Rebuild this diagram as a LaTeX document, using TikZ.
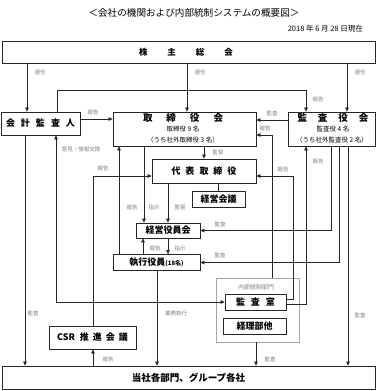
\documentclass[tikz,border=0pt]{standalone}
\usepackage{fontspec}
\setmainfont{Noto Sans CJK JP}
\usetikzlibrary{arrows.meta}
\newcommand{\gp}[1]{\hspace{#1pt}}
\begin{document}
\begin{tikzpicture}[x=1pt,y=-1pt,
  box/.style={draw=black!85, line width=0.8pt, inner sep=0pt, font=\bfseries\fontsize{9}{10}\selectfont},
  emptybox/.style={draw=black!85, line width=0.8pt, inner sep=0pt},
  sub/.style={inner sep=0pt, font=\fontsize{6.5}{7}\selectfont},
  lbl/.style={inner sep=0pt, text=black!50, font=\fontsize{5.5}{6}\selectfont},
  conn/.style={line width=0.6pt, draw=black!85},
  arr/.style={conn, -{Triangle[length=4pt,width=3.6pt]}},
  darr/.style={conn, {Triangle[length=4pt,width=3.6pt]}-{Triangle[length=4pt,width=3.6pt]}}
]
\useasboundingbox[fill=white] (0,0) rectangle (384,391);

% title and date
\node[inner sep=0pt, font=\fontsize{9.6}{11}\selectfont] (title) at (194,13) {＜会社の機関および内部統制システムの概要図＞};
\node[inner sep=0pt, anchor=east, font=\fontsize{7.5}{8}\selectfont] (date) at (363,29) {2018 年 6 月 28 日現在};

% boxes
\node[box, minimum width=373pt, minimum height=22pt] (kabu) at (188.5,52) {};
\node[inner sep=0pt, font=\bfseries\fontsize{8.5}{10}\selectfont] (kabut) at (186,52) {株\gp{20}主\gp{20}総\gp{20}会};
\node[box, minimum width=79pt, minimum height=23pt] (kaikei) at (40.5,123.5) {会\gp{6}計\gp{6}監\gp{6}査\gp{6}人};
\node[emptybox, minimum width=143pt, minimum height=34pt] (tori) at (184.5,129) {};
\node[inner sep=0pt, font=\bfseries\fontsize{9.5}{10}\selectfont] (tori1) at (183,117.5) {取\gp{14}締\gp{14}役\gp{14}会};
\node[sub] (tori2) at (183,129) {取締役 9 名};
\node[sub] (tori3) at (183,140) {（うち社外取締役 3 名）};
\node[emptybox, minimum width=87pt, minimum height=34pt] (kansa) at (331.5,129) {};
\node[inner sep=0pt, font=\bfseries\fontsize{9.5}{10}\selectfont] (kansa1) at (333,117.5) {監\gp{11}査\gp{11}役\gp{11}会};
\node[sub] (kansa2) at (333,129) {監査役 4 名};
\node[sub] (kansa3) at (332,140) {（うち社外監査役 2 名）};
\node[box, minimum width=104pt, minimum height=24pt] (daihyo) at (204,171) {代\gp{5}表\gp{5}取\gp{5}締\gp{5}役};
\node[box, minimum width=53pt, minimum height=16pt] (kkaigi) at (218.5,199) {経営会議};
\node[box, minimum width=64pt, minimum height=15pt] (kyaku) at (168,230.5) {経営役員会};
\node[box, minimum width=87pt, minimum height=16pt] (shikko) at (156.5,262.5) {執行役員{\fontsize{6}{7}\selectfont (18名)}};
\node[draw=black!35, line width=0.7pt, inner sep=0pt, minimum width=83pt, minimum height=64pt] (naibu) at (257.5,310) {};
\node[lbl, font=\fontsize{6}{7}\selectfont] (naibul) at (256,287) {内部統制部門};
\node[box, minimum width=61pt, minimum height=16pt] (kshitsu) at (255.5,302) {監\gp{6}査\gp{6}室};
\node[box, minimum width=63pt, minimum height=16pt] (keiri) at (254.5,326) {経理部他};
\node[box, minimum width=87pt, minimum height=23pt] (csr) at (92.5,337.5) {CSR\gp{5}推\gp{4}進\gp{4}会\gp{4}議};
\node[box, minimum width=373pt, minimum height=23pt, font=\bfseries\fontsize{9.5}{10}\selectfont] (tosha) at (188.5,377.5) {当社各部門、グループ各社};

% helper coordinates
\foreach \xx in {25,27,56,57,93,119,143,144,157,168,187,204,218,256,272,293,306,331,339,347,348}
  \coordinate (c\xx) at (\xx,0);
\foreach \yy in {90,119,120,135,176,299,304}
  \coordinate (h\yy) at (0,\yy);

% connectors
\draw[arr] (kabu.south -| c27) -- (kaikei.north -| c27);
\draw[arr] (kabu.south -| c187) -- (tori.north -| c187);
\draw[arr] (kabu.south -| c347) -- (kansa.north -| c347);
\draw[arr] (kaikei.north -| c57) |- (h90 -| c306) -- (kansa.north -| c306);
\draw[arr] (kaikei.east |- h119) -- (tori.west |- h119);
\draw[arr] (kansa.west |- h120) -- (tori.east |- h120);
\draw[arr] (naibu.north -| c272) |- (tori.east |- h135);
\draw[arr] (tori.south -| c204) -- (daihyo.north -| c204);
\draw[conn] (daihyo.south -| c218) -- (kkaigi.north -| c218);
\draw[arr] (tori.south -| c144) -- (kyaku.north -| c144);
\draw[arr] (daihyo.south -| c168) -- (kyaku.north -| c168);
\draw[arr] (shikko.north -| c119) -- (tori.south -| c119);
\draw[arr] (shikko.north -| c143) -- (kyaku.south -| c143);
\draw[arr] (kyaku.south -| c168) -- (shikko.north -| c168);
\draw[arr] (kansa.south -| c331) |- (kyaku.east);
\draw[arr] (kansa.south -| c339) |- (shikko.east);
\draw[arr] (kansa.south -| c348) -- (tosha.north -| c348);
\draw[arr] (kshitsu.east |- h299) -| (c293 |- h176) -- (daihyo.east |- h176);
\draw[arr] (kshitsu.east |- h304) -| (kansa.south -| c306);
\draw[arr] (csr.north -| c93) |- (daihyo.west |- h176);
\draw[arr] (kaikei.south -| c25) -- (tosha.north -| c25);
\draw[darr] (kaikei.south -| c56) |- (kshitsu.west);
\draw[arr] (shikko.south -| c157) -- (tosha.north -| c157);
\draw[arr] (naibu.south -| c256) -- (tosha.north -| c256);
\draw[arr] (tosha.north -| c93) -- (csr.south -| c93);

% labels
\node[lbl] (l1) at (40,72) {選任};
\node[lbl] (l2) at (200,72) {選任};
\node[lbl] (l3) at (360,72) {選任};
\node[lbl] (l4) at (318,99) {報告};
\node[lbl] (l5) at (93,112) {報告};
\node[lbl] (l6) at (272,113) {監査};
\node[lbl] (l7) at (265,128) {報告};
\node[lbl] (l8) at (81,149) {意見・情報交換};
\node[lbl] (l9) at (218,152) {監督};
\node[lbl] (l10) at (103,168) {報告};
\node[lbl] (l11) at (283,169) {報告};
\node[lbl] (l12) at (318,161) {報告};
\node[lbl] (l13) at (132,207) {報告};
\node[lbl] (l14) at (154,207) {指示};
\node[lbl] (l15) at (180,207) {監督};
\node[lbl] (l16) at (220,224) {監査};
\node[lbl] (l17) at (155,248) {報告};
\node[lbl] (l18) at (180,248) {指示};
\node[lbl] (l19) at (220,255) {監査};
\node[lbl] (l20) at (33,313) {監査};
\node[lbl] (l21) at (176,313) {業務執行};
\node[lbl] (l22) at (360,315) {監査};
\node[lbl] (l23) at (108,359) {報告};
\node[lbl] (l24) at (270,359) {監査};
\end{tikzpicture}
\end{document}
